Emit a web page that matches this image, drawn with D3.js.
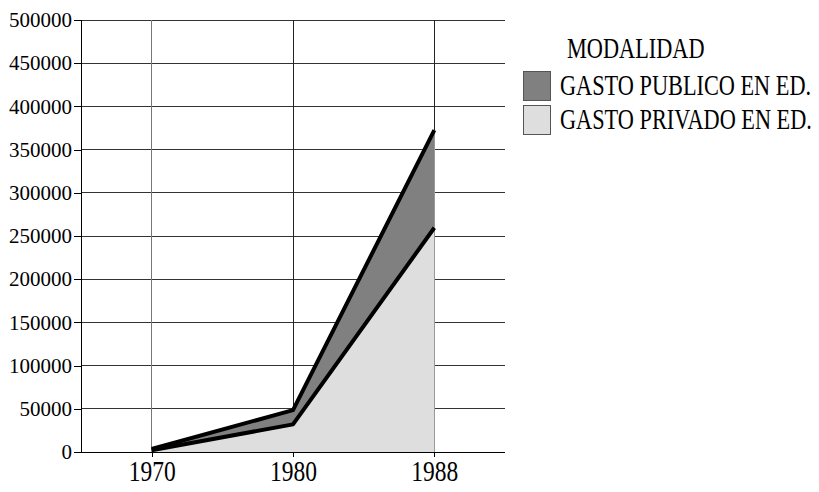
<!DOCTYPE html>
<html><head><meta charset="utf-8">
<script src="https://cdn.jsdelivr.net/npm/d3@7/dist/d3.min.js"></script>
<style>body{margin:0;background:#fff}svg{display:block}</style>
</head><body><svg id="c" width="819" height="492"></svg>
<script>
const years = ["1970", "1980", "1988"];
const privado = [2000, 32000, 259500];
const publico = [1500, 16500, 113000];
const yTicks = [0, 50000, 100000, 150000, 200000, 250000, 300000, 350000, 400000, 450000, 500000];
const seriesNames = ["GASTO PUBLICO EN ED.", "GASTO PRIVADO EN ED."];
const legendTitle = "MODALIDAD";
const colors = ["#808080", "#dedede"];

(function () {
const FONT = "'Liberation Serif'";
const svg = d3.select("#c");
const mL = 81, mR = 505, mT = 20, mB = 452;
const x = d3.scalePoint().domain(years).range([mL, mR]).padding(0.5);
const y = d3.scaleLinear().domain([0, 500000]).range([mB, mT]);

const rows = years.map((yr, i) => ({yr, priv: privado[i], tot: privado[i] + publico[i]}));

svg.append("g").selectAll("line").data(yTicks.slice(1)).join("line")
  .attr("x1", mL).attr("x2", mR).attr("y1", d => y(d)).attr("y2", d => y(d))
  .attr("stroke", "#333").attr("stroke-width", 1).attr("shape-rendering", "crispEdges");
svg.append("g").selectAll("line").data(years).join("line")
  .attr("x1", d => x(d)).attr("x2", d => x(d)).attr("y1", mT).attr("y2", mB)
  .attr("stroke", d => d === "1970" ? "#777" : "#222").attr("stroke-width", 1).attr("shape-rendering", "crispEdges");

const areaTot = d3.area().x(d => x(d.yr)).y0(d => y(d.priv)).y1(d => y(d.tot));
const areaPriv = d3.area().x(d => x(d.yr)).y0(y(0)).y1(d => y(d.priv));
svg.append("path").datum(rows).attr("d", areaTot).attr("fill", colors[0]);
svg.append("path").datum(rows).attr("d", areaPriv).attr("fill", colors[1]);
svg.append("line").attr("x1", x("1988")).attr("x2", x("1988")).attr("y1", y(rows[2].tot)).attr("y2", mB)
  .attr("stroke", "#999").attr("stroke-width", 1).attr("shape-rendering", "crispEdges");

const lineTot = d3.line().x(d => x(d.yr)).y(d => y(d.tot));
const linePriv = d3.line().x(d => x(d.yr)).y(d => y(d.priv));
[lineTot, linePriv].forEach(l => svg.append("path").datum(rows).attr("d", l)
  .attr("fill", "none").attr("stroke", "#000").attr("stroke-width", 4).attr("stroke-linejoin", "round"));

const yAxis = svg.append("g").attr("transform", `translate(${mL},0)`)
  .call(d3.axisLeft(y).tickValues(yTicks).tickFormat(d3.format("d")).tickSize(7).tickPadding(2));
const xAxis = svg.append("g").attr("transform", `translate(0,${mB})`)
  .call(d3.axisBottom(x).tickSize(5));
[yAxis, xAxis].forEach(a => {
  a.attr("font-family", null).attr("font-size", null);
  a.select(".domain").remove();
  a.selectAll("line").attr("stroke", "#000").attr("shape-rendering", "crispEdges");
  a.selectAll("text").style("font-family", FONT).attr("fill", "#000");
});
yAxis.selectAll("text").style("font-size", "21px");
xAxis.selectAll("text").style("font-size", "23.5px")
  .attr("y", 0).attr("dy", null)
  .attr("transform", "translate(0,28.5) scale(1,1.22)");

svg.append("line").attr("x1", mL).attr("x2", mL).attr("y1", mT).attr("y2", mB)
  .attr("stroke", "#000").attr("shape-rendering", "crispEdges");
svg.append("line").attr("x1", mL - 7).attr("x2", mR).attr("y1", mB).attr("y2", mB)
  .attr("stroke", "#000").attr("shape-rendering", "crispEdges");

const lg = svg.append("g");
lg.append("text").attr("transform", "translate(567,58) scale(1,1.3)")
  .style("font-family", FONT).style("font-size", "22.3px").text(legendTitle);
seriesNames.forEach((n, i) => {
  const yy = 71 + i * 34;
  lg.append("rect").attr("x", 523.5).attr("y", yy + 0.5).attr("width", 27).attr("height", 29)
    .attr("fill", colors[i]).attr("stroke", "#555");
  lg.append("text").attr("transform", `translate(560,${yy + 24}) scale(1,1.3)`)
    .style("font-family", FONT).style("font-size", "22.3px").text(n);
});
})();
</script></body></html>
